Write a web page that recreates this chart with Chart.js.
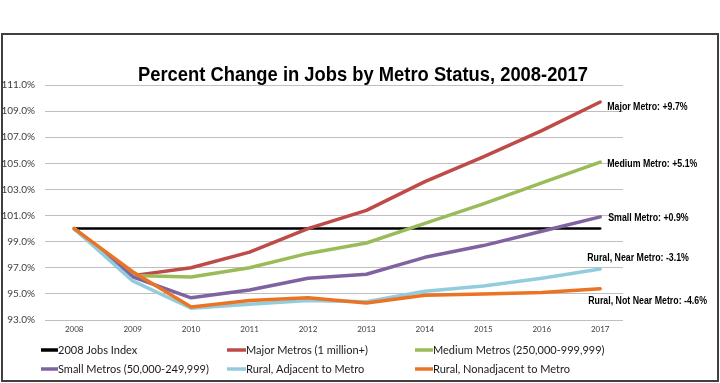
<!DOCTYPE html>
<html>
<head>
<meta charset="utf-8">
<script src="https://cdn.jsdelivr.net/npm/chart.js@4/dist/chart.umd.min.js"></script>
<style>
  html, body { margin: 0; padding: 0; background: #fff; }
  #wrap { position: relative; width: 720px; height: 383px; }
</style>
</head>
<body>
<div id="wrap"><canvas id="c" width="720" height="383"></canvas></div>
<script>
// ---- Data ----
const years = ['2008','2009','2010','2011','2012','2013','2014','2015','2016','2017'];
const seriesNames = ['2008 Jobs Index','Major Metros (1 million+)','Medium Metros (250,000-999,999)',
  'Small Metros (50,000-249,999)','Rural, Adjacent to Metro','Rural, Nonadjacent to Metro'];
const jobsIndex = [100, 100, 100, 100, 100, 100, 100, 100, 100, 100];
const majorMetros = [100, 96.4, 97.0, 98.2, 100.0, 101.4, 103.6, 105.5, 107.5, 109.7];
const mediumMetros = [100, 96.4, 96.3, 97.0, 98.1, 98.9, 100.4, 101.9, 103.5, 105.1];
const smallMetros = [100, 96.3, 94.7, 95.3, 96.2, 96.5, 97.8, 98.7, 99.8, 100.9];
const ruralAdjacent = [100, 96.0, 93.9, 94.2, 94.5, 94.4, 95.2, 95.6, 96.2, 96.9];
const ruralNonadjacent = [100, 96.7, 94.0, 94.5, 94.7, 94.3, 94.9, 95.0, 95.1, 95.4];
const endLabels = ['', 'Major Metro: +9.7%', 'Medium Metro: +5.1%', 'Small Metro: +0.9%',
  'Rural, Near Metro: -3.1%', 'Rural, Not Near Metro: -4.6%'];
const yTicks = [93, 95, 97, 99, 101, 103, 105, 107, 109, 111];
const titleText = 'Percent Change in Jobs by Metro Status, 2008-2017';

// ---- Styles ----
const colors = ['#000000', '#BE4B48', '#9BBB59', '#7F63A1', '#93CDDD', '#EB7424'];
const widths = [2.5, 3.5, 3.5, 3.5, 3.5, 3.5];
// label offsets relative to last point [dx, dy]
const labelOffsets = [null, [7, 5], [7, 2], [8, 1.5], [-13, -11], [-12, 12.5]];
const legendCols = [[41, 58], [227, 246], [415, 433]];
const legendRows = [350, 369];

const allSeries = [jobsIndex, majorMetros, mediumMetros, smallMetros, ruralAdjacent, ruralNonadjacent];

const datasets = allSeries.map((arr, i) => ({
  label: seriesNames[i],
  data: arr.map((v, k) => ({ x: k, y: v })),
  borderColor: colors[i],
  backgroundColor: colors[i],
  borderWidth: widths[i],
  pointRadius: 0,
  tension: 0,
  borderJoinStyle: 'round',
  borderCapStyle: 'round',
  order: allSeries.length - 1 - i,
  fill: false
}));

const ARIAL = '"Liberation Sans", Arial, sans-serif';

// draw text horizontally condensed (Arial Narrow look)
function narrowText(ctx, text, x, y, sx, align) {
  ctx.save();
  ctx.translate(x, y);
  ctx.scale(sx, 1);
  ctx.textAlign = align;
  ctx.fillText(text, 0, 0);
  ctx.restore();
}

const decor = {
  id: 'decor',
  beforeDraw(chart) {
    const ctx = chart.ctx;
    ctx.save();
    ctx.fillStyle = '#fff';
    ctx.fillRect(0, 0, chart.width, chart.height);
    ctx.strokeStyle = '#404040';
    ctx.lineWidth = 2;
    ctx.strokeRect(2, 34, 716, 347);
    ctx.restore();
  },
  afterDraw(chart) {
    const ctx = chart.ctx;
    const xs = chart.scales.x, ys = chart.scales.y;
    ctx.save();
    // title
    ctx.fillStyle = '#000';
    ctx.font = 'bold 21px ' + ARIAL;
    ctx.textBaseline = 'alphabetic';
    const tw = ctx.measureText(titleText).width;
    narrowText(ctx, titleText, 363, 81, 450 / tw, 'center');
    // end labels
    ctx.font = 'bold 11px ' + ARIAL;
    ctx.textBaseline = 'middle';
    allSeries.forEach((arr, i) => {
      if (!endLabels[i]) return;
      const last = arr.length - 1;
      const px = xs.getPixelForValue(last);
      const py = ys.getPixelForValue(arr[last]);
      narrowText(ctx, endLabels[i], px + labelOffsets[i][0], py + labelOffsets[i][1], 0.8, 'left');
    });
    // legend
    ctx.font = '11px Lato, "Open Sans", sans-serif';
    ctx.fillStyle = '#1a1a1a';
    ctx.textAlign = 'left';
    seriesNames.forEach((name, i) => {
      const col = legendCols[i % 3], y = legendRows[Math.floor(i / 3)];
      ctx.strokeStyle = colors[i];
      ctx.lineWidth = 3.5;
      ctx.lineCap = 'butt';
      ctx.beginPath();
      ctx.moveTo(col[0], y);
      ctx.lineTo(col[1], y);
      ctx.stroke();
      ctx.fillText(name, col[1], y + 0.5);
    });
    ctx.restore();
  }
};

new Chart(document.getElementById('c'), {
  type: 'line',
  data: { datasets },
  options: {
    responsive: false,
    animation: false,
    events: [],
    layout: { padding: { left: 0, top: 85, right: 97, bottom: 43 } },
    plugins: { legend: { display: false }, title: { display: false }, tooltip: { enabled: false } },
    scales: {
      x: {
        type: 'linear',
        min: -0.5,
        max: 9.39,
        afterBuildTicks: s => { s.ticks = years.map((_, k) => ({ value: k })); },
        afterFit: s => { s.height = 20; },
        ticks: {
          autoSkip: false,
          maxRotation: 0,
          padding: 5,
          color: '#404040',
          font: { family: 'Lato, "Open Sans", sans-serif', size: 8 },
          callback: v => years[v] ?? ''
        },
        grid: { display: false, drawTicks: false },
        border: { display: false }
      },
      y: {
        min: 93,
        max: 111,
        afterBuildTicks: s => { s.ticks = yTicks.map(v => ({ value: v })); },
        afterFit: s => { s.width = 45; },
        ticks: {
          padding: 10,
          color: '#404040',
          font: { family: 'Lato, "Open Sans", sans-serif', size: 10 },
          callback: v => v.toFixed(1) + '%'
        },
        grid: { color: '#BFBFBF', lineWidth: 1, drawTicks: false },
        border: { display: false }
      }
    }
  },
  plugins: [decor]
});
</script>
</body>
</html>
